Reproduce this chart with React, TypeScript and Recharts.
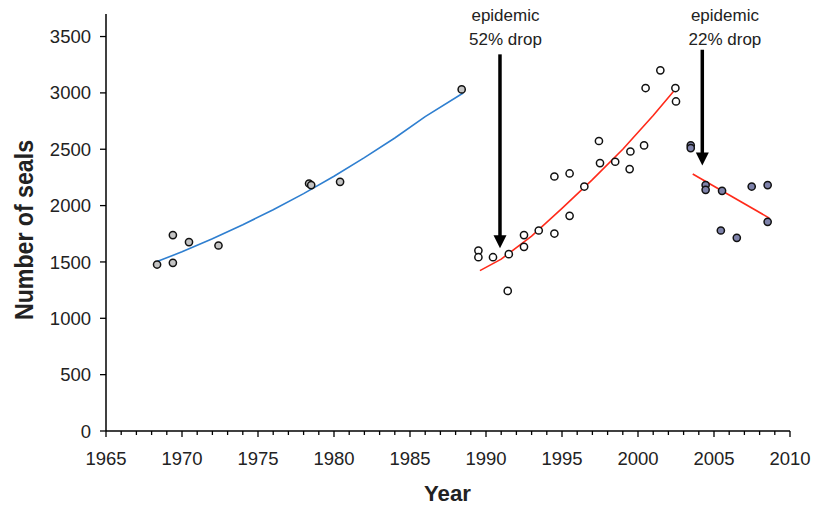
import React from "react";
import {
  ComposedChart,
  Scatter,
  XAxis,
  YAxis,
  ReferenceLine,
  ReferenceDot,
  Label,
} from "recharts";

// Observed counts (year, number of seals)
const earlyCounts = [
  { x: 1968.36, y: 1477 },
  { x: 1969.4, y: 1738 },
  { x: 1969.4, y: 1492 },
  { x: 1970.46, y: 1676 },
  { x: 1972.4, y: 1646 },
  { x: 1978.36, y: 2196 },
  { x: 1978.5, y: 2182 },
  { x: 1980.4, y: 2211 },
  { x: 1988.4, y: 3031 },
];

const middleCounts = [
  { x: 1989.5, y: 1601 },
  { x: 1989.5, y: 1542 },
  { x: 1990.46, y: 1542 },
  { x: 1991.43, y: 1243 },
  { x: 1991.5, y: 1569 },
  { x: 1992.5, y: 1738 },
  { x: 1992.5, y: 1634 },
  { x: 1993.47, y: 1779 },
  { x: 1994.5, y: 2258 },
  { x: 1994.5, y: 1752 },
  { x: 1995.5, y: 2285 },
  { x: 1995.5, y: 1909 },
  { x: 1996.47, y: 2169 },
  { x: 1997.43, y: 2573 },
  { x: 1997.5, y: 2377 },
  { x: 1998.5, y: 2389 },
  { x: 1999.45, y: 2324 },
  { x: 1999.5, y: 2480 },
  { x: 2000.4, y: 2534 },
  { x: 2000.5, y: 3043 },
  { x: 2001.47, y: 3200 },
  { x: 2002.46, y: 3043 },
  { x: 2002.5, y: 2924 },
];

const lateCounts = [
  { x: 2003.47, y: 2534 },
  { x: 2003.47, y: 2510 },
  { x: 2004.45, y: 2182 },
  { x: 2004.45, y: 2140 },
  { x: 2005.53, y: 2131 },
  { x: 2005.45, y: 1779 },
  { x: 2006.5, y: 1714 },
  { x: 2007.48, y: 2169 },
  { x: 2008.53, y: 2182 },
  { x: 2008.53, y: 1856 },
];

// Trend lines
const trendEarly = [
  { x: 1968.36, y: 1503 },
  { x: 1970, y: 1590 },
  { x: 1972, y: 1705 },
  { x: 1974, y: 1830 },
  { x: 1976, y: 1963 },
  { x: 1978, y: 2106 },
  { x: 1980, y: 2260 },
  { x: 1982, y: 2425 },
  { x: 1984, y: 2600 },
  { x: 1986, y: 2790 },
  { x: 1988.5, y: 2999 },
];

const trendMiddle = [
  { x: 1989.6, y: 1423 },
  { x: 1991, y: 1525 },
  { x: 1993, y: 1730 },
  { x: 1995, y: 1975 },
  { x: 1997, y: 2230 },
  { x: 1999, y: 2500 },
  { x: 2001, y: 2800 },
  { x: 2002.65, y: 3063 },
];

const trendLate = [
  { x: 2003.6, y: 2280 },
  { x: 2008.64, y: 1889 },
];

// Axis ticks
const xTicks = Array.from({ length: 46 }, (_, i) => 1965 + i);
const yTicks = [0, 500, 1000, 1500, 2000, 2500, 3000, 3500];

// Epidemic arrows and notes
const arrows = [
  { x: 1990.92, from: 3342, to: 1622 },
  { x: 2004.23, from: 3383, to: 2356 },
];
const notes = [
  { x: 1991.28, y: 3636, lines: ["epidemic", "52% drop"] },
  { x: 2005.72, y: 3636, lines: ["epidemic", "22% drop"] },
];

const FONT = "'Liberation Sans', Arial, sans-serif";
const TEXT = "#222";

const XTick = (props: any) => {
  const { x, y, payload } = props;
  const v = payload.value as number;
  const major = v % 5 === 0;
  const top = y - 6;
  return (
    <g>
      <line x1={x} x2={x} y1={top} y2={top + (major ? 6 : 4)} stroke="#000" strokeWidth={1.3} />
      {major && (
        <text x={x} y={top + 34} textAnchor="middle" fontFamily={FONT} fontSize={18.5} fill={TEXT}>
          {v}
        </text>
      )}
    </g>
  );
};

const dot = (fill: string) => (p: any) =>
  p.cx == null ? <g /> : <circle cx={p.cx} cy={p.cy} r={3.6} fill={fill} stroke="#111" strokeWidth={1.5} />;

const noDot = () => <g />;

const arrowShape = (p: any) => {
  const { x1, y1, x2, y2 } = p;
  const head = 13;
  const half = 6.5;
  const x = x1;
  const top = Math.min(y1, y2);
  const tip = Math.max(y1, y2);
  return (
    <g>
      <line x1={x} x2={x} y1={top} y2={tip - head + 1} stroke="#000" strokeWidth={3.5} />
      <polygon points={`${x - half},${tip - head} ${x + half},${tip - head} ${x},${tip}`} fill="#000" />
    </g>
  );
};

const noteShape = (lines: string[]) => (p: any) =>
  (
    <text x={p.cx} y={p.cy} textAnchor="middle" fontFamily={FONT} fontSize={17} fill={TEXT}>
      <tspan x={p.cx} y={p.cy}>{lines[0]}</tspan>
      <tspan x={p.cx} y={p.cy + 24}>{lines[1]}</tspan>
    </text>
  );

export default function App() {
  return (
    <div style={{ position: "absolute", left: 0, top: 0, width: 814, height: 505, background: "#fff" }}>
      <ComposedChart width={814} height={505} margin={{ top: 14, right: 24, bottom: 14, left: 0 }}>
        <XAxis
          type="number"
          dataKey="x"
          domain={[1965, 2010]}
          ticks={xTicks}
          interval={0}
          tick={<XTick />}
          tickLine={false}
          tickSize={6}
          tickMargin={0}
          height={60}
          axisLine={{ stroke: "#000", strokeWidth: 1.5 }}
        >
          <Label
            content={(props: any) => {
              const vb = props.viewBox || {};
              return (
                <text
                  x={vb.x + vb.width / 2 - 0.5}
                  y={vb.y + 69.5}
                  textAnchor="middle"
                  fontFamily={FONT}
                  fontWeight="bold"
                  fontSize={22.5}
                  fill={TEXT}
                  textLength={47}
                  lengthAdjust="spacingAndGlyphs"
                >
                  Year
                </text>
              );
            }}
          />
        </XAxis>
        <YAxis
          type="number"
          dataKey="y"
          domain={[0, 3700]}
          ticks={yTicks}
          interval={0}
          width={106}
          tickSize={6}
          tickMargin={9}
          tickLine={{ stroke: "#000", strokeWidth: 1.3 }}
          axisLine={{ stroke: "#000", strokeWidth: 1.5 }}
          tick={{ fontFamily: FONT, fontSize: 18.5, fill: TEXT }}
        >
          <Label
            content={(props: any) => {
              const vb = props.viewBox || {};
              const cx = vb.x + 32.5;
              const cy = vb.y + vb.height / 2 + 7.5;
              return (
                <text
                  x={cx}
                  y={cy}
                  transform={`rotate(-90, ${cx}, ${cy})`}
                  textAnchor="middle"
                  fontFamily={FONT}
                  fontWeight="bold"
                  fontSize={25}
                  fill={TEXT}
                  textLength={180}
                  lengthAdjust="spacingAndGlyphs"
                >
                  Number of seals
                </text>
              );
            }}
          />
        </YAxis>

        <Scatter data={trendEarly} line={{ stroke: "#2f7fd0", strokeWidth: 1.6 }} shape={noDot} isAnimationActive={false} />
        <Scatter data={trendMiddle} line={{ stroke: "#ff2a1a", strokeWidth: 1.6 }} shape={noDot} isAnimationActive={false} />
        <Scatter data={trendLate} line={{ stroke: "#ff2a1a", strokeWidth: 1.6 }} shape={noDot} isAnimationActive={false} />

        <Scatter data={earlyCounts} shape={dot("#c4c4c4")} isAnimationActive={false} />
        <Scatter data={middleCounts} shape={dot("#ffffff")} isAnimationActive={false} />
        <Scatter data={lateCounts} shape={dot("#7e82aa")} isAnimationActive={false} />

        {arrows.map((a, i) => (
          <ReferenceLine
            key={`arrow-${i}`}
            segment={[
              { x: a.x, y: a.from },
              { x: a.x, y: a.to },
            ]}
            shape={arrowShape}
            ifOverflow="visible"
          />
        ))}
        {notes.map((n, i) => (
          <ReferenceDot key={`note-${i}`} x={n.x} y={n.y} r={0} shape={noteShape(n.lines)} ifOverflow="visible" />
        ))}
      </ComposedChart>
    </div>
  );
}
